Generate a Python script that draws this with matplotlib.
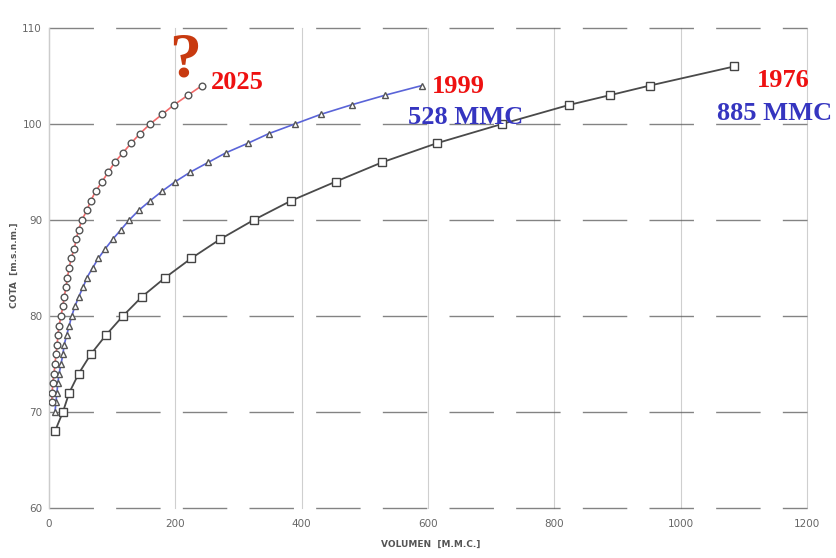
import matplotlib
matplotlib.use("Agg")
import matplotlib.pyplot as plt

# curvas cota-volumen (volumen en MMC, cota en m.s.n.m.)
vol_1976 = [9.5, 22, 32, 47, 66, 90, 117, 147, 184, 225, 271, 324, 383, 454, 527,
            614, 717, 824, 888, 951, 1085]
cota_1976 = [68, 70, 72, 74, 76, 78, 80, 82, 84, 86, 88, 90, 92, 94, 96,
             98, 100, 102, 103, 104, 106]

vol_1999 = [9.5, 11, 12.5, 14, 16, 19, 22, 24, 28, 32, 36, 41, 47, 54, 60, 69, 78,
            89, 101, 114, 127, 142, 160, 179, 200, 224, 252, 280, 315, 348, 389,
            430, 479, 532, 590]
cota_1999 = list(range(70, 105))

vol_2025 = [4.5, 5, 6, 8, 9.5, 11, 13, 14, 16, 19, 22, 24, 27, 29, 32, 35, 40, 43,
            47, 52, 60, 66, 74, 84, 94, 104, 117, 130, 144, 160, 179, 198, 220, 242]
cota_2025 = list(range(71, 105))

x_ticks = [0, 200, 400, 600, 800, 1000, 1200]
y_ticks = [60, 70, 80, 90, 100, 110]

fig = plt.figure(figsize=(8.36, 5.58), dpi=100)
ax = fig.add_axes([0.0586, 0.0896, 0.9067, 0.8602])

ax.plot(vol_1976, cota_1976, color="#4a4a4a", lw=1.3, marker="s", ms=5.2,
        mfc="white", mec="#444444", mew=1.0, zorder=3)
ax.plot(vol_1999, cota_1999, color="#5a64d8", lw=1.2, marker="^", ms=5.0,
        mfc="white", mec="#555555", mew=1.0, zorder=3)
ax.plot(vol_2025, cota_2025, color="#f26a6a", lw=1.2, marker="o", ms=4.8,
        mfc="white", mec="#555555", mew=1.0, zorder=3)

ax.set_xlim(0, 1200)
ax.set_ylim(60, 110)
ax.set_xticks(x_ticks)
ax.set_yticks(y_ticks)
ax.tick_params(length=0, labelsize=7.5, labelcolor="#666666")
ax.tick_params(axis="x", pad=8)
ax.tick_params(axis="y", pad=5)
for s in ax.spines.values():
    s.set_visible(False)
ax.spines["left"].set_visible(True)
ax.spines["left"].set_color("#cccccc")
ax.spines["left"].set_linewidth(1.0)

ax.grid(axis="x", color="#cfcfcf", lw=0.8)
ax.grid(axis="y", color="#5a5a5a", lw=1.0, dashes=(32, 16), alpha=0.75)
ax.set_axisbelow(True)
for gl in ax.get_xgridlines() + ax.get_ygridlines():
    gl.set_clip_on(False)

serif = "Liberation Serif"
ax.text(215, 104.9, "?", color="#c83a10", fontsize=46, fontweight="bold",
        family=serif, ha="center", va="baseline")
ax.text(256, 103.6, "2025", color="#ee1111", fontsize=19, fontweight="bold",
        family=serif, va="baseline")
ax.text(606, 103.2, "1999", color="#ee1111", fontsize=19, fontweight="bold",
        family=serif, va="baseline")
ax.text(568, 100.0, "528 MMC", color="#3535c0", fontsize=19, fontweight="bold",
        family=serif, va="baseline")
ax.text(1120, 103.85, "1976", color="#ee1111", fontsize=19, fontweight="bold",
        family=serif, va="baseline")
ax.text(1058, 100.4, "885 MMC", color="#3535c0", fontsize=19, fontweight="bold",
        family=serif, va="baseline")

fig.text(0.515, 0.025, "VOLUMEN  [M.M.C.]", fontsize=6.5, fontweight="bold",
         color="#555555", ha="center", va="center")
fig.text(0.017, 0.525, "COTA  [m.s.n.m.]", fontsize=6.5, fontweight="bold",
         color="#555555", ha="center", va="center", rotation=90)

fig.savefig("out.png", dpi=100)
